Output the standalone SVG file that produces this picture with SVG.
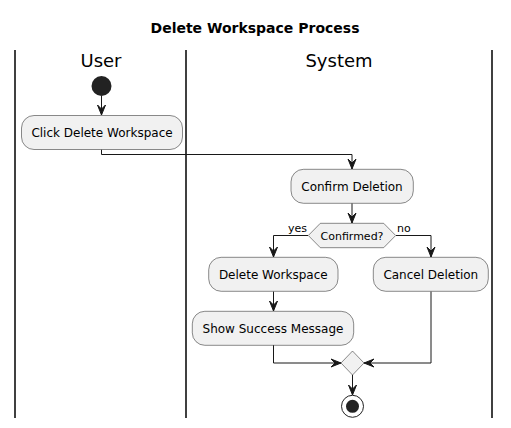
<svg xmlns="http://www.w3.org/2000/svg" width="511" height="428" viewBox="0 0 511 428">
<style>
text{font-family:"DejaVu Sans","Noto Sans",sans-serif;fill:#000}
.act rect{fill:#F1F1F1;stroke:#181818;stroke-width:0.5}
.act text{font-size:12px;text-anchor:middle}
.lane{stroke:#000;stroke-width:1.5}
.lt{font-size:18px;text-anchor:middle}
.c path{fill:none;stroke:#181818;stroke-width:1}
.ah{fill:#181818;stroke:#181818;stroke-width:1}
</style>
<defs>
<polygon id="ad" class="ah" points="-4,-10 0,0 4,-10 0,-6"/>
<polygon id="ar" class="ah" points="-10,-4 0,0 -10,4 -6,0"/>
<polygon id="al" class="ah" points="10,-4 0,0 10,4 6,0"/>
</defs>
<rect width="511" height="428" fill="#fff"/>
<text x="255" y="33" font-size="14" font-weight="bold" text-anchor="middle">Delete Workspace Process</text>
<g id="lanes">
<line class="lane" x1="15" y1="50" x2="15" y2="418"/>
<line class="lane" x1="186" y1="50" x2="186" y2="418"/>
<line class="lane" x1="492" y1="50" x2="492" y2="418"/>
<text class="lt" x="101" y="67">User</text>
<text class="lt" x="339" y="67">System</text>
</g>
<g class="c" id="connectors">
<path d="M101.5,96 V115"/><use href="#ad" x="101.5" y="115"/>
<path d="M101.5,149.5 V154.5 H352 V169"/><use href="#ad" x="352" y="169"/>
<path d="M352,203.3 V223"/><use href="#ad" x="352" y="223"/>
<path d="M308,235.5 H273.5 V257"/><use href="#ad" x="273.5" y="257"/>
<path d="M396,235.5 H431 V257"/><use href="#ad" x="431" y="257"/>
<path d="M273.5,291.5 V311"/><use href="#ad" x="273.5" y="311"/>
<path d="M273.5,345 V363 H341"/><use href="#ar" x="341" y="363"/>
<path d="M431,291.5 V363 H364"/><use href="#al" x="364" y="363"/>
<path d="M352.5,375 V395"/><use href="#ad" x="352.5" y="395"/>
<text x="307" y="232" font-size="11" text-anchor="end">yes</text>
<text x="397" y="232" font-size="11">no</text>
</g>
<g id="start"><circle cx="101.5" cy="86" r="10" fill="#222"/></g>
<g id="click" class="act"><rect x="21.5" y="115.5" width="161" height="34" rx="12.5"/><text x="102" y="137.3">Click Delete Workspace</text></g>
<g id="confirm" class="act"><rect x="291" y="169.3" width="122.3" height="34" rx="12.5"/><text x="352" y="190.6">Confirm Deletion</text></g>
<g id="decision"><polygon points="308.3,235.5 320.3,223.3 383.7,223.3 395.7,235.5 383.7,247.7 320.3,247.7" fill="#F1F1F1" stroke="#181818" stroke-width="0.5"/><text x="352" y="239.5" font-size="11" text-anchor="middle">Confirmed?</text></g>
<g id="delete" class="act"><rect x="208.7" y="257.3" width="129.3" height="34" rx="12.5"/><text x="273.3" y="278.8">Delete Workspace</text></g>
<g id="cancel" class="act"><rect x="373.3" y="257.3" width="115" height="34" rx="12.5"/><text x="430.8" y="278.8">Cancel Deletion</text></g>
<g id="success" class="act"><rect x="192.3" y="311.3" width="161.4" height="34" rx="12.5"/><text x="273" y="332.6">Show Success Message</text></g>
<g id="merge"><polygon points="341,363 352.5,351 364,363 352.5,375" fill="#F1F1F1" stroke="#181818" stroke-width="0.5"/></g>
<g id="end"><circle cx="352.5" cy="406.3" r="11" fill="none" stroke="#222" stroke-width="1"/><circle cx="352.5" cy="406.3" r="6.5" fill="#222"/></g>
</svg>
